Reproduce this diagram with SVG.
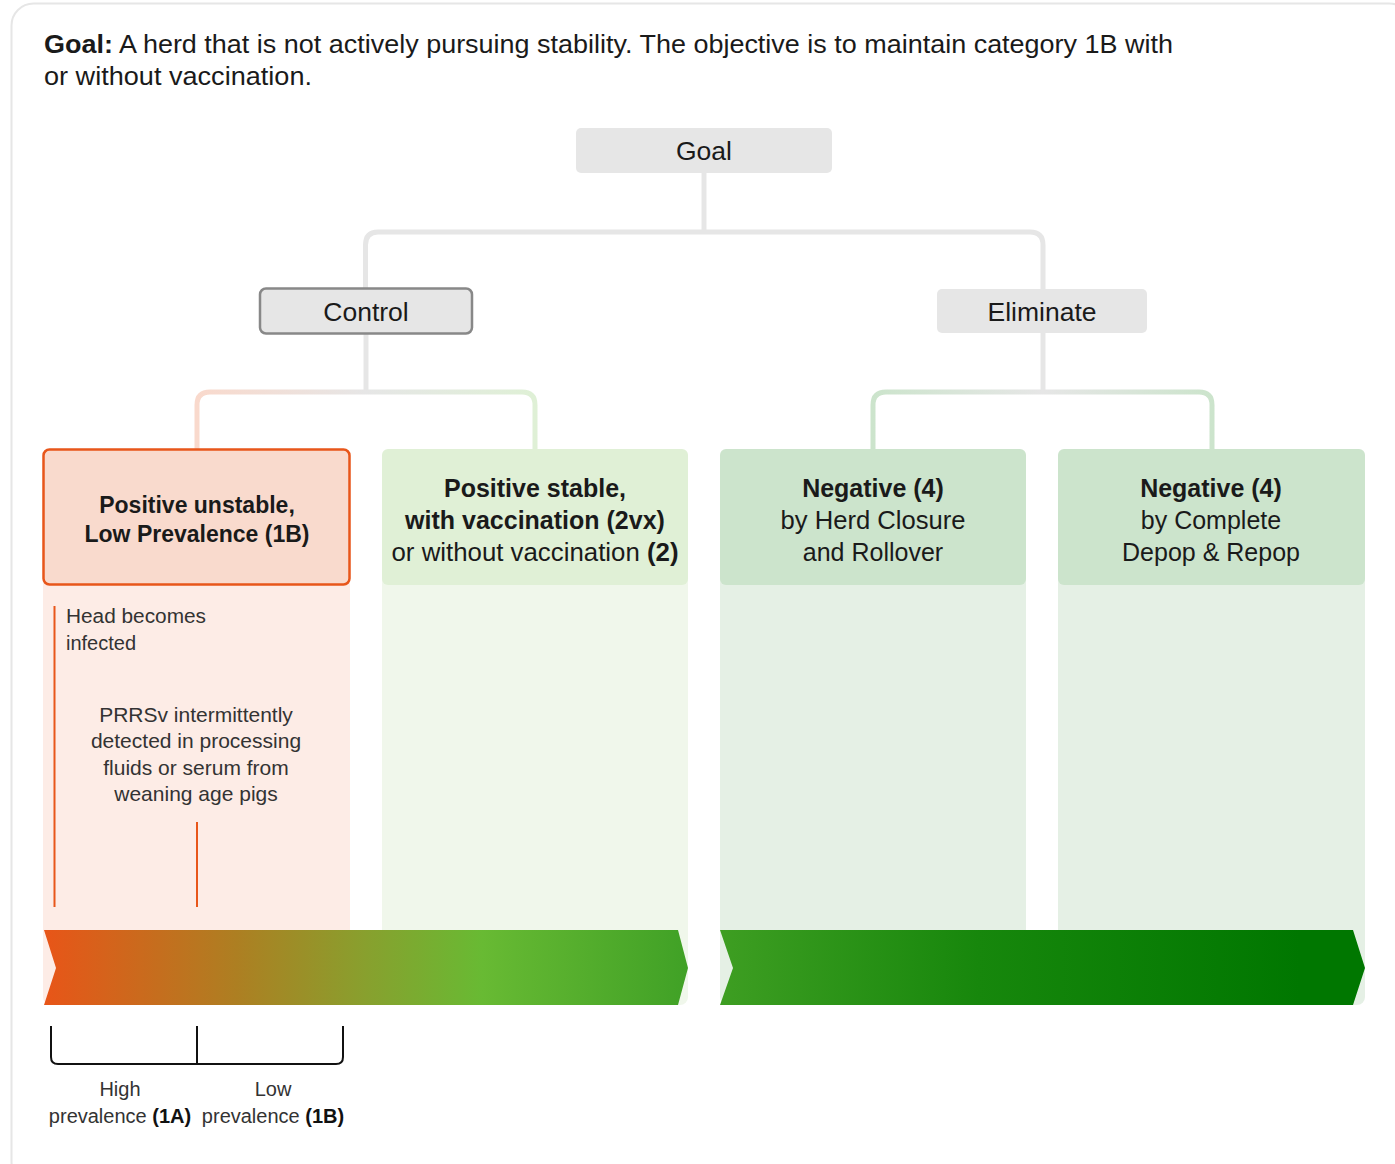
<svg xmlns="http://www.w3.org/2000/svg" width="1395" height="1164" viewBox="0 0 1395 1164">
<style>
text{font-family:"Liberation Sans",Arial,sans-serif;fill:#1a1a1a}
.b{font-weight:bold}
.t27{font-size:26.5px}
.t25{font-size:25px}
.t23{font-size:23px}
.t21{font-size:21px;fill:#333}
.t20{font-size:20px;fill:#333}
.conn{fill:none;stroke-width:5}
.gray{stroke:#e6e6e6}
</style>
<defs>
<linearGradient id="gCtl" x1="197" y1="0" x2="535" y2="0" gradientUnits="userSpaceOnUse">
<stop offset="0" stop-color="#f9d9cc"/><stop offset="0.5" stop-color="#e6e6e6"/><stop offset="1" stop-color="#dff0d6"/>
</linearGradient>
<linearGradient id="gElim" x1="873" y1="0" x2="1212" y2="0" gradientUnits="userSpaceOnUse">
<stop offset="0" stop-color="#cce4cc"/><stop offset="0.5" stop-color="#e6e6e6"/><stop offset="1" stop-color="#cce4cc"/>
</linearGradient>
<linearGradient id="gA1" x1="44" y1="0" x2="688" y2="0" gradientUnits="userSpaceOnUse">
<stop offset="0" stop-color="#e85518"/><stop offset="0.3" stop-color="#ad7f22"/><stop offset="0.5" stop-color="#88a02e"/><stop offset="0.68" stop-color="#68ba33"/><stop offset="1" stop-color="#40a126"/>
</linearGradient>
<linearGradient id="gA2" x1="720" y1="0" x2="1365" y2="0" gradientUnits="userSpaceOnUse">
<stop offset="0" stop-color="#3e9e22"/><stop offset="0.4" stop-color="#17870c"/><stop offset="0.9" stop-color="#007700"/><stop offset="1" stop-color="#007700"/>
</linearGradient>
</defs>
<rect x="0" y="0" width="1395" height="1164" fill="#fff"/>
<rect x="11.5" y="3.5" width="1400" height="1180" rx="22" fill="#fff" stroke="#e6e6e6" stroke-width="2"/>

<g id="intro">
<text class="t25" x="44" y="53" textLength="1129" lengthAdjust="spacingAndGlyphs"><tspan class="b">Goal:</tspan> A herd that is not actively pursuing stability. The objective is to maintain category 1B with</text>
<text class="t25" x="44" y="85" textLength="268" lengthAdjust="spacingAndGlyphs">or without vaccination.</text>
</g>

<g id="columns-bg">
<rect x="43" y="560" width="307" height="445" rx="8" fill="#fdece6"/>
<rect x="382" y="560" width="306" height="445" rx="8" fill="#f0f7eb"/>
<rect x="720" y="560" width="306" height="445" rx="8" fill="#e5f0e5"/>
<rect x="1058" y="560" width="307" height="445" rx="8" fill="#e5f0e5"/>
</g>

<g id="connectors">
<path class="conn gray" d="M704 173 V232"/>
<path class="conn gray" d="M365.5 288 V245 Q365.5 232 378 232 H1030 Q1043 232 1043 245 V289"/>
<path class="conn gray" d="M366 334 V392"/>
<path class="conn" stroke="url(#gCtl)" d="M197 449 V405 Q197 392 210 392 H522 Q535 392 535 405 V449"/>
<path class="conn gray" d="M1043 333 V392"/>
<path class="conn" stroke="url(#gElim)" d="M873 449 V405 Q873 392 886 392 H1199 Q1212 392 1212 405 V449"/>
</g>

<g id="goal">
<rect x="576" y="128" width="256" height="45" rx="5" fill="#e6e6e6"/>
<text class="t27" x="704" y="160" text-anchor="middle">Goal</text>
</g>
<g id="control">
<rect x="260" y="288.5" width="212" height="45" rx="6" fill="#e6e6e6" stroke="#888" stroke-width="2.5"/>
<text class="t27" x="366" y="321" text-anchor="middle">Control</text>
</g>
<g id="eliminate">
<rect x="937" y="289" width="210" height="44" rx="5" fill="#e6e6e6"/>
<text class="t27" x="1042" y="321" text-anchor="middle">Eliminate</text>
</g>

<g id="col1">
<rect x="43.5" y="449.5" width="306" height="135" rx="6" fill="#f9dacd" stroke="#e8561a" stroke-width="2.5"/>
<text class="t23 b" x="197" y="513" text-anchor="middle">Positive unstable,</text>
<text class="t23 b" x="197" y="542" text-anchor="middle">Low Prevalence (1B)</text>
</g>
<g id="col2">
<rect x="382" y="449" width="306" height="136" rx="6" fill="#e0f0d6"/>
<text class="t25 b" x="535" y="497" text-anchor="middle">Positive stable,</text>
<text class="t25 b" x="535" y="529" text-anchor="middle">with vaccination (2vx)</text>
<text class="t25" x="535" y="561" text-anchor="middle" textLength="287" lengthAdjust="spacingAndGlyphs">or without vaccination <tspan class="b">(2)</tspan></text>
</g>
<g id="col3">
<rect x="720" y="449" width="306" height="136" rx="6" fill="#cce4cc"/>
<text class="t25 b" x="873" y="497" text-anchor="middle">Negative (4)</text>
<text class="t25" x="873" y="529" text-anchor="middle" textLength="185" lengthAdjust="spacingAndGlyphs">by Herd Closure</text>
<text class="t25" x="873" y="561" text-anchor="middle">and Rollover</text>
</g>
<g id="col4">
<rect x="1058" y="449" width="307" height="136" rx="6" fill="#cce4cc"/>
<text class="t25 b" x="1211" y="497" text-anchor="middle">Negative (4)</text>
<text class="t25" x="1211" y="529" text-anchor="middle">by Complete</text>
<text class="t25" x="1211" y="561" text-anchor="middle">Depop &amp; Repop</text>
</g>

<g id="col1-notes">
<line x1="54.5" y1="606" x2="54.5" y2="907" stroke="#e8561a" stroke-width="2"/>
<text class="t20" x="66" y="623" textLength="140" lengthAdjust="spacingAndGlyphs">Head becomes</text>
<text class="t20" x="66" y="650">infected</text>
<text class="t21" x="196" y="722" text-anchor="middle">PRRSv intermittently</text>
<text class="t21" x="196" y="748" text-anchor="middle">detected in processing</text>
<text class="t21" x="196" y="775" text-anchor="middle">fluids or serum from</text>
<text class="t21" x="196" y="801" text-anchor="middle">weaning age pigs</text>
<line x1="197" y1="822" x2="197" y2="907" stroke="#e8561a" stroke-width="2"/>
</g>

<g id="arrows">
<polygon points="44,930 678,930 688,968 678,1005 44,1005 56,968" fill="url(#gA1)"/>
<polygon points="720,930 1353,930 1365,968 1353,1005 720,1005 733,968" fill="url(#gA2)"/>
</g>

<g id="bracket">
<path d="M51 1026 V1057 Q51 1064 58 1064 H336 Q343 1064 343 1057 V1026" fill="none" stroke="#111" stroke-width="2"/>
<line x1="197" y1="1026" x2="197" y2="1064" stroke="#111" stroke-width="2"/>
<text class="t20" x="120" y="1096" text-anchor="middle">High</text>
<text class="t20" x="120" y="1123" text-anchor="middle">prevalence <tspan class="b" fill="#111">(1A)</tspan></text>
<text class="t20" x="273" y="1096" text-anchor="middle">Low</text>
<text class="t20" x="273" y="1123" text-anchor="middle">prevalence <tspan class="b" fill="#111">(1B)</tspan></text>
</g>
</svg>
